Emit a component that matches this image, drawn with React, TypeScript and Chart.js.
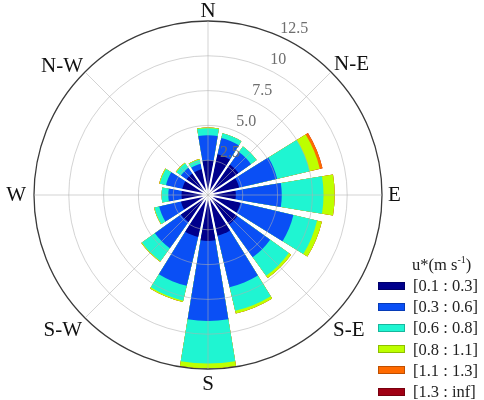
import React, { useEffect, useRef } from "react";
import { Chart, registerables } from "chart.js";

Chart.register(...registerables);

// 16 wind directions (clockwise from North)
const directions = ["N", "NNE", "NE", "ENE", "E", "ESE", "SE", "SSE", "S", "SSW", "SW", "WSW", "W", "WNW", "NW", "NNW"];

// friction velocity classes
const classLabels = ["[0.1 : 0.3]", "[0.3 : 0.6]", "[0.6 : 0.8]", "[0.8 : 1.1]", "[1.1 : 1.3]", "[1.3 : inf]"];
const classColors = ["#00008c", "#0a4ff5", "#1ff5d2", "#bdff00", "#ff6a00", "#a00014"];

// frequency (%) per class and direction
const class1 = [2.5, 3.0, 2.7, 2.3, 2.0, 2.4, 2.6, 3.0, 3.3, 3.1, 2.4, 2.0, 1.9, 1.9, 1.9, 1.9];
const class2 = [1.8, 1.2, 1.1, 2.8, 3.3, 3.9, 2.9, 3.8, 5.75, 3.6, 2.3, 1.6, 0.95, 1.2, 0.5, 0.4];
const class3 = [0.5, 0.35, 0.5, 2.4, 3.0, 1.75, 1.65, 1.75, 3.05, 1.1, 1.15, 0.35, 0.48, 0.45, 0.4, 0.3];
const class4 = [0.05, 0, 0, 0.75, 0.8, 0.35, 0.2, 0.2, 0.35, 0.1, 0.05, 0.03, 0, 0.05, 0.05, 0.05];
const class5 = [0, 0, 0, 0.2, 0, 0, 0, 0, 0, 0, 0, 0, 0, 0, 0, 0];
const class6 = [0, 0, 0, 0, 0, 0, 0, 0, 0, 0, 0, 0, 0, 0, 0, 0];
const classSeries = [class1, class2, class3, class4, class5, class6];

// radial axis
const rMax = 12.5;
const rStep = 2.5;
const tickLabels = ["2.5", "5.0", "7.5", "10", "12.5"];
const tickValues = [2.5, 5, 7.5, 10, 12.5];

// compass labels
const compassLabels = ["N", "N-E", "E", "S-E", "S", "S-W", "W", "N-W"];
const compassAngles = [0, 45, 90, 135, 180, 225, 270, 315];

const GAP_DEG = 3.9;
const SECTOR_DEG = 360 / directions.length;
const BAR_DEG = SECTOR_DEG - GAP_DEG;

const GRID = "rgba(175,175,175,0.55)";
const SERIF = '"Liberation Serif", "Times New Roman", serif';

// thin white separators along the gap centres (drawn under the grid)
const gapPlugin = {
  id: "gaps",
  afterDatasetsDraw(chart: any) {
    const s = chart.scales.r;
    const cx = s.xCenter;
    const cy = s.yCenter;
    const R = s.drawingArea;
    const ctx = chart.ctx;
    const arcs = chart.getDatasetMeta(0).data;
    ctx.save();
    ctx.strokeStyle = "#fff";
    ctx.lineWidth = 2;
    for (let i = 1; i < arcs.length; i += 2) {
      const a = (arcs[i].startAngle + arcs[i].endAngle) / 2;
      ctx.beginPath();
      ctx.moveTo(cx, cy);
      ctx.lineTo(cx + R * Math.cos(a), cy + R * Math.sin(a));
      ctx.stroke();
    }
    ctx.restore();
  },
};

const decorPlugin = {
  id: "decor",
  afterDraw(chart: any) {
    const s = chart.scales.r;
    const cx = s.xCenter;
    const cy = s.yCenter;
    const R = s.drawingArea;
    const ctx = chart.ctx;
    ctx.save();
    // angle lines every 45 degrees
    ctx.strokeStyle = GRID;
    ctx.lineWidth = 1;
    for (let k = 0; k < 8; k++) {
      const a = (k * Math.PI) / 4 - Math.PI / 2;
      ctx.beginPath();
      ctx.moveTo(cx, cy);
      ctx.lineTo(cx + R * Math.cos(a), cy + R * Math.sin(a));
      ctx.stroke();
    }
    // radial tick labels
    ctx.fillStyle = "#6e6e6e";
    ctx.font = "16px " + SERIF;
    ctx.textAlign = "center";
    ctx.textBaseline = "middle";
    const tAng = (27.5 * Math.PI) / 180;
    tickValues.forEach((v, i) => {
      const d = s.getDistanceFromCenterForValue(v) + 13;
      ctx.fillText(tickLabels[i], cx + d * Math.sin(tAng), cy - d * Math.cos(tAng));
    });
    // compass labels
    ctx.fillStyle = "#111";
    ctx.font = "21px " + SERIF;
    compassLabels.forEach((t, i) => {
      const deg = compassAngles[i];
      const a = (deg * Math.PI) / 180;
      const px = cx + R * Math.sin(a);
      const py = cy - R * Math.cos(a);
      let x = px, y = py;
      if (deg === 0) { ctx.textAlign = "center"; ctx.textBaseline = "alphabetic"; y = py - 4; }
      else if (deg === 180) { ctx.textAlign = "center"; ctx.textBaseline = "alphabetic"; y = py + 21; }
      else if (deg === 90) { ctx.textAlign = "left"; ctx.textBaseline = "middle"; x = px + 6; }
      else if (deg === 270) { ctx.textAlign = "right"; ctx.textBaseline = "middle"; x = px - 8; }
      else if (deg === 45) { ctx.textAlign = "left"; ctx.textBaseline = "alphabetic"; x = px + 3; y = py - 2; }
      else if (deg === 315) { ctx.textAlign = "right"; ctx.textBaseline = "alphabetic"; x = px - 2; y = py; }
      else if (deg === 135) { ctx.textAlign = "left"; ctx.textBaseline = "top"; x = px + 2; y = py + 2; }
      else { ctx.textAlign = "right"; ctx.textBaseline = "top"; x = px - 3; y = py + 2; }
      ctx.fillText(t, x, y);
    });
    ctx.restore();
  },
};

export default function App() {
  const canvasRef = useRef<HTMLCanvasElement>(null);

  useEffect(() => {
    document.body.style.margin = "0";
    const cumulative: number[][] = [];
    let running = directions.map(() => 0);
    classSeries.forEach((ser) => {
      running = running.map((v, i) => v + ser[i]);
      cumulative.push(running);
    });
    const labels: string[] = [];
    directions.forEach((d) => {
      labels.push(d);
      labels.push("");
    });
    const datasets = cumulative.map((c, k) => ({
      label: classLabels[k],
      data: c.flatMap((v) => [v, 0]),
      backgroundColor: classColors[k],
      borderWidth: 0,
      angle: (ctx: any) => (ctx.dataIndex % 2 === 0 ? BAR_DEG : GAP_DEG),
    }));

    const chart = new Chart(canvasRef.current as HTMLCanvasElement, {
      type: "polarArea",
      data: { labels, datasets: datasets as any },
      options: {
        responsive: false,
        animation: false,
        layout: { padding: { left: 34, top: 21, right: 102, bottom: 31 } },
        plugins: { legend: { display: false }, tooltip: { enabled: false } },
        scales: {
          r: {
            min: 0,
            max: rMax,
            startAngle: -BAR_DEG / 2,
            ticks: { display: false, stepSize: rStep },
            angleLines: { display: false },
            pointLabels: { display: false },
            grid: {
              z: 1,
              circular: true,
              color: (c: any) => (c.tick && c.tick.value === rMax ? "#3a3a3a" : GRID),
              lineWidth: (c: any) => (c.tick && c.tick.value === rMax ? 1.3 : 1),
            },
          },
        },
      } as any,
      plugins: [gapPlugin, decorPlugin],
    });
    return () => chart.destroy();
  }, []);

  return (
    <div style={{ position: "relative", width: 484, height: 400, background: "#fff" }}>
      <canvas ref={canvasRef} width={484} height={400} style={{ display: "block" }} />
      <div
        style={{
          position: "absolute",
          left: 378,
          top: 254,
          fontFamily: SERIF,
          fontSize: 16.5,
          color: "#222",
          lineHeight: "21.2px",
        }}
      >
        <div style={{ paddingLeft: 34, height: 21, lineHeight: "21px" }}>
          u*(m s<sup style={{ fontSize: 10, verticalAlign: "top", lineHeight: "12px" }}>-1</sup>)
        </div>
        {classLabels.map((l, i) => (
          <div key={l} style={{ display: "flex", alignItems: "center", height: 21.2 }}>
            <span
              style={{
                display: "inline-block",
                width: 27,
                height: 8,
                background: classColors[i],
                border: "1px solid rgba(0,0,0,0.25)",
                boxSizing: "border-box",
                marginRight: 8,
              }}
            />
            <span>{l}</span>
          </div>
        ))}
      </div>
    </div>
  );
}
